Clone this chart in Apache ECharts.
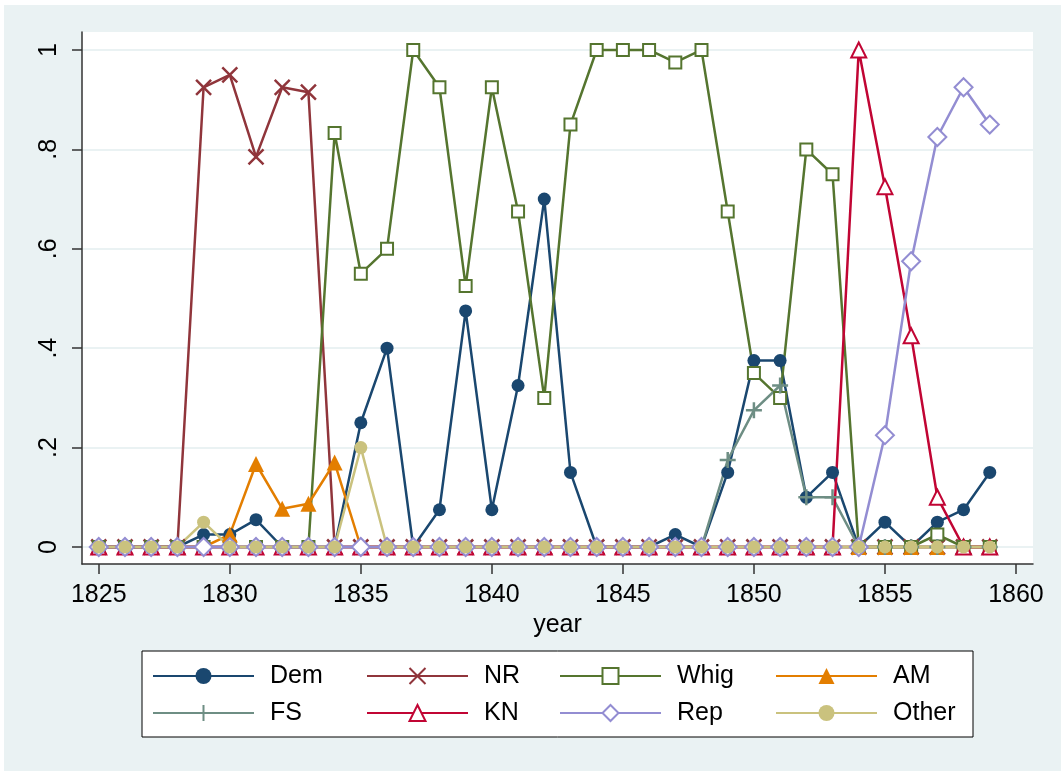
<!DOCTYPE html>
<html>
<head>
<meta charset="utf-8">
<title>Party shares by year</title>
<script src="https://cdn.jsdelivr.net/npm/echarts@6/dist/echarts.min.js"></script>
<style>
  html, body { margin: 0; padding: 0; background: #fff; }
  #chart { width: 1061px; height: 771px; }
</style>
</head>
<body>
<div id="chart"></div>
<script>
// data, one value per year 1825..1859
const years = [1825, 1826, 1827, 1828, 1829, 1830, 1831, 1832, 1833, 1834,
  1835, 1836, 1837, 1838, 1839, 1840, 1841, 1842, 1843, 1844,
  1845, 1846, 1847, 1848, 1849, 1850, 1851, 1852, 1853, 1854,
  1855, 1856, 1857, 1858, 1859];
const dem = [0, 0, 0, 0, 0.025, 0.025, 0.055, 0, 0, 0,
  0.25, 0.4, 0, 0.075, 0.475, 0.075, 0.325, 0.7, 0.15, 0,
  0, 0, 0.025, 0, 0.15, 0.375, 0.375, 0.1, 0.15, 0,
  0.05, 0, 0.05, 0.075, 0.15];
const nr = [0, 0, 0, 0, 0.925, 0.95, 0.785, 0.925, 0.915, 0,
  0, 0, 0, 0, 0, 0, 0, 0, 0, 0,
  0, 0, 0, 0, 0, 0, 0, 0, 0, 0,
  0, 0, 0, 0, 0];
const whig = [0, 0, 0, 0, 0, 0, 0, 0, 0, 0.833,
  0.55, 0.6, 1, 0.925, 0.525, 0.925, 0.675, 0.3, 0.85, 1,
  1, 1, 0.975, 1, 0.675, 0.35, 0.3, 0.8, 0.75, 0,
  0, 0, 0.025, 0, 0];
const am = [0, 0, 0, 0, 0, 0.025, 0.167, 0.077, 0.087, 0.17,
  0, 0, 0, 0, 0, 0, 0, 0, 0, 0,
  0, 0, 0, 0, 0, 0, 0, 0, 0, 0,
  0, 0, 0, 0, 0];
const fs = [0, 0, 0, 0, 0, 0, 0, 0, 0, 0,
  0, 0, 0, 0, 0, 0, 0, 0, 0, 0,
  0, 0, 0, 0, 0.175, 0.275, 0.325, 0.1, 0.1, 0,
  0, 0, 0, 0, 0];
const kn = [0, 0, 0, 0, 0, 0, 0, 0, 0, 0,
  0, 0, 0, 0, 0, 0, 0, 0, 0, 0,
  0, 0, 0, 0, 0, 0, 0, 0, 0, 1,
  0.725, 0.425, 0.1, 0, 0];
const rep = [0, 0, 0, 0, 0, 0, 0, 0, 0, 0,
  0, 0, 0, 0, 0, 0, 0, 0, 0, 0,
  0, 0, 0, 0, 0, 0, 0, 0, 0, 0,
  0.225, 0.575, 0.825, 0.925, 0.85];
const other = [0, 0, 0, 0, 0.05, 0, 0, 0, 0, 0,
  0.2, 0, 0, 0, 0, 0, 0, 0, 0, 0,
  0, 0, 0, 0, 0, 0, 0, 0, 0, 0,
  0, 0, 0, 0, 0];

const xTicks = [1825, 1830, 1835, 1840, 1845, 1850, 1855, 1860];
const yTicks = [0, 0.2, 0.4, 0.6, 0.8, 1];

const FONT = '"Liberation Sans", Arial, sans-serif';
const AXIS_COLOR = '#333';
const X_MARK = 'path://M0,0L10,10M0,10L10,0';
const PLUS_MARK = 'path://M5,0L5,10M0,5L10,5';

function line(name, vals, color, symbol, size, stroke) {
  const s = {
    name: name,
    type: 'line',
    data: years.map((y, i) => [y, vals[i]]),
    symbol: symbol,
    symbolSize: size,
    showAllSymbol: true,
    lineStyle: { color: color, width: 2.5 },
    itemStyle: { color: color },
    emphasis: { disabled: true }
  };
  if (stroke) {
    s.itemStyle.borderColor = color;
    s.itemStyle.borderWidth = stroke;
  }
  return s;
}

function legendCol(left, names) {
  return {
    orient: 'vertical',
    left: left,
    top: 662,
    padding: 0,
    itemWidth: 101,
    itemHeight: 20,
    itemGap: 9,
    selectedMode: false,
    data: names,
    textStyle: {
      fontFamily: FONT, fontSize: 25, color: '#000',
      lineHeight: 28, padding: [0, 0, 0, 11]
    }
  };
}

const chart = echarts.init(document.getElementById('chart'));
chart.setOption({
  animation: false,
  backgroundColor: '#eaf2f3',
  textStyle: { fontFamily: FONT },
  graphic: [
    // thin white strip on the left and top edges
    { type: 'rect', shape: { x: 0, y: 0, width: 4, height: 771 }, style: { fill: '#fff' } },
    { type: 'rect', shape: { x: 0, y: 0, width: 1061, height: 5 }, style: { fill: '#fff' } },
    // legend box
    { type: 'rect', shape: { x: 142, y: 651, width: 831, height: 86 },
      style: { fill: '#fff', stroke: '#000', lineWidth: 1 } }
  ],
  grid: {
    left: 82, top: 32, right: 28, bottom: 207,
    show: true, backgroundColor: '#fff', borderWidth: 0
  },
  xAxis: {
    type: 'value',
    min: 1824.36,
    max: 1860.65,
    name: 'year',
    nameLocation: 'middle',
    nameGap: 46,
    nameTextStyle: { fontFamily: FONT, fontSize: 25, color: '#000' },
    axisLine: { show: true, onZero: false, lineStyle: { color: AXIS_COLOR, width: 1.5 } },
    axisTick: { show: true, length: 10, customValues: xTicks, lineStyle: { color: AXIS_COLOR, width: 1.5 } },
    axisLabel: {
      customValues: xTicks, fontFamily: FONT, fontSize: 25, color: '#000', margin: 19,
      formatter: v => String(v)
    },
    splitLine: { show: false }
  },
  yAxis: {
    type: 'value',
    min: -0.0342,
    max: 1.0362,
    axisLine: { show: true, onZero: false, lineStyle: { color: AXIS_COLOR, width: 1.5 } },
    axisTick: { show: true, length: 10, customValues: yTicks, lineStyle: { color: AXIS_COLOR, width: 1.5 } },
    axisLabel: {
      customValues: yTicks,
      rotate: 90,
      margin: 20,
      fontFamily: FONT, fontSize: 25, color: '#000',
      formatter: v => (v === 0 ? '0' : v === 1 ? '1' : String(v).replace('0.', '.'))
    },
    splitLine: { show: true, lineStyle: { color: '#eaf2f3', width: 2 } }
  },
  legend: [
    legendCol(152, ['Dem', 'FS']),
    legendCol(366, ['NR', 'KN']),
    legendCol(559, ['Whig', 'Rep']),
    legendCol(775, ['AM', 'Other'])
  ],
  series: [
    line('Dem', dem, '#1a476f', 'circle', 13),
    line('NR', nr, '#90353b', X_MARK, 15, 2.5),
    line('Whig', whig, '#55752f', 'emptyRect', 12, 2.5),
    line('AM', am, '#e37e00', 'triangle', 16),
    line('FS', fs, '#6e8e84', PLUS_MARK, 16, 2.5),
    line('KN', kn, '#c10534', 'emptyTriangle', 15, 2.5),
    line('Rep', rep, '#938dd2', 'emptyDiamond', 18, 2.5),
    line('Other', other, '#cac27e', 'circle', 13)
  ]
});
</script>
</body>
</html>
